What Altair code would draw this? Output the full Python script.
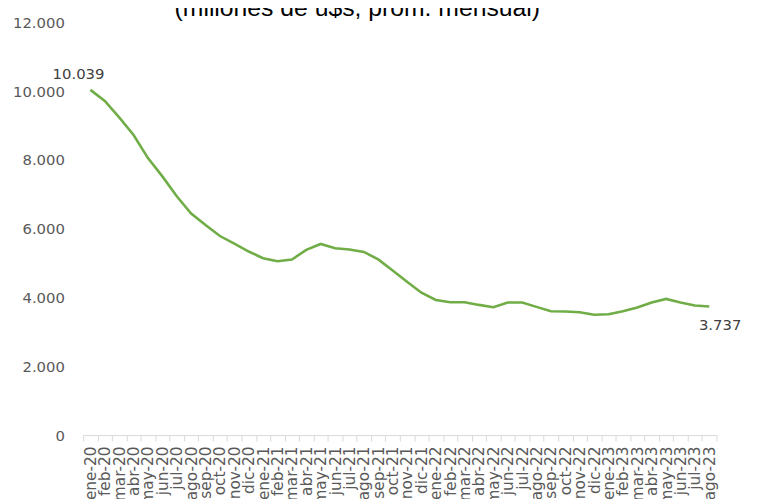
import altair as alt
import pandas as pd

title_text = "(millones de u$s, prom. mensual)"

months = ["ene-20", "feb-20", "mar-20", "abr-20", "may-20", "jun-20", "jul-20", "ago-20",
          "sep-20", "oct-20", "nov-20", "dic-20",
          "ene-21", "feb-21", "mar-21", "abr-21", "may-21", "jun-21", "jul-21", "ago-21",
          "sep-21", "oct-21", "nov-21", "dic-21",
          "ene-22", "feb-22", "mar-22", "abr-22", "may-22", "jun-22", "jul-22", "ago-22",
          "sep-22", "oct-22", "nov-22", "dic-22",
          "ene-23", "feb-23", "mar-23", "abr-23", "may-23", "jun-23", "jul-23", "ago-23"]

values = [10039, 9720, 9240, 8728, 8055, 7523, 6945, 6445,
          6107, 5789, 5569, 5338,
          5145, 5058, 5107, 5385, 5558, 5434, 5396, 5327,
          5110, 4789, 4460, 4142,
          3931, 3864, 3864, 3786, 3719, 3853, 3853, 3728,
          3603, 3593, 3574, 3497,
          3516, 3603, 3709, 3853, 3960, 3853, 3767, 3737]

y_ticks = [0, 2000, 4000, 6000, 8000, 10000, 12000]

df = pd.DataFrame({"mes": months, "valor": values})

x_enc = alt.X("mes:N", sort=months,
              scale=alt.Scale(paddingInner=0, paddingOuter=0),
              axis=alt.Axis(title=None, labelAngle=-90, labelFont="DejaVu Sans",
                            labelFontSize=15.5, labelColor="#595959",
                            domainColor="#d9d9d9", tickColor="#d9d9d9",
                            tickSize=6, tickBand="extent", labelPadding=5,
                            labelOverlap=False, grid=False))
y_enc = alt.Y("valor:Q", scale=alt.Scale(domain=[0, 12000], nice=False),
              axis=alt.Axis(title=None, values=y_ticks, domain=False, ticks=False,
                            grid=False, labelFont="DejaVu Sans", labelFontSize=15,
                            labelColor="#595959", labelPadding=19,
                            labelExpr="replace(format(datum.value, ',.0f'), ',', '.')"))

base = alt.Chart(df).encode(x=x_enc, y=y_enc)

line = base.mark_line(color="#70AD47", strokeWidth=2.6)

lbl = base.transform_calculate(
    txt="replace(format(datum.valor, ',.0f'), ',', '.')"
).encode(text="txt:N")

first_lbl = lbl.transform_filter(alt.datum.mes == months[0]).mark_text(
    font="DejaVu Sans", fontSize=15, color="#404040", align="center",
    baseline="alphabetic", dx=-12, dy=-10.5)
last_lbl = lbl.transform_filter(alt.datum.mes == months[-1]).mark_text(
    font="DejaVu Sans", fontSize=15, color="#404040", align="center",
    baseline="alphabetic", dx=11, dy=23.5)

title_mark = alt.Chart(pd.DataFrame({"t": [title_text]})).mark_text(
    font="Liberation Sans", fontSize=25, color="#000000", align="center",
    baseline="alphabetic"
).encode(x=alt.value(277), y=alt.value(-7), text="t:N")

chart = alt.layer(line, first_lbl, last_lbl, title_mark).properties(
    width=640, height=417,
    autosize=alt.AutoSizeParams(type="none"),
    padding={"left": 76, "top": 12, "right": 44, "bottom": 62},
).configure_view(stroke=None)

chart.save("out.html", embed_options={"renderer": "svg", "actions": False})
